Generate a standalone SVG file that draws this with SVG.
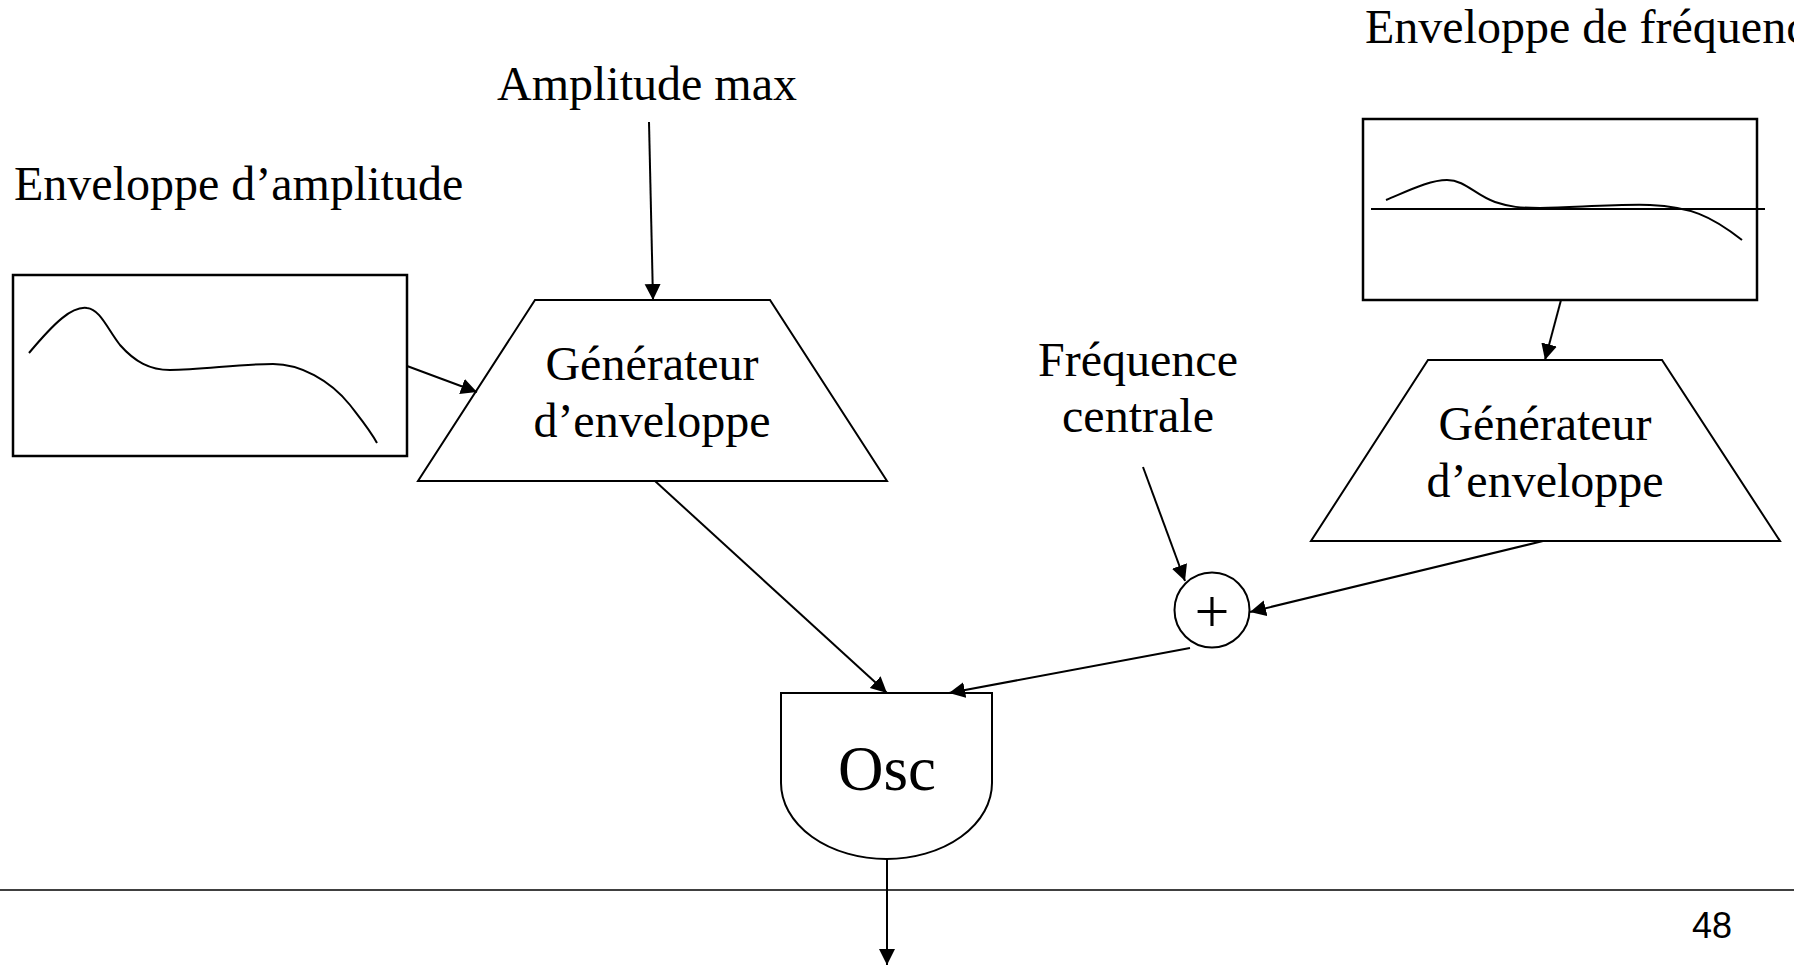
<svg xmlns="http://www.w3.org/2000/svg" width="1794" height="965" viewBox="0 0 1794 965">
  <style>
    .lbl { font-family: "Liberation Serif", "Times New Roman", serif; font-size: 48px; fill: #000; }
    .mid { text-anchor: middle; }
    .box { fill: #fff; stroke: #000; stroke-width: 2.5; }
    .shape { fill: #fff; stroke: #000; stroke-width: 2; }
    .curve { fill: none; stroke: #000; stroke-width: 2; }
    .wire { fill: none; stroke: #000; stroke-width: 2; marker-end: url(#head); }
    .rule { stroke: #000; stroke-width: 1.5; }
  </style>
  <defs>
    <marker id="head" markerUnits="userSpaceOnUse" markerWidth="17" markerHeight="17" refX="16" refY="8" orient="auto">
      <path d="M0,0 L16,8 L0,16 Z" fill="#000"/>
    </marker>
  </defs>
  <rect width="1794" height="965" fill="#fff"/>

  <!-- free-standing labels -->
  <text class="lbl" x="14" y="200">Enveloppe d’amplitude</text>
  <text class="lbl mid" x="647" y="100">Amplitude max</text>
  <text class="lbl" x="1365" y="43">Enveloppe de fréquence</text>
  <text class="lbl mid" x="1138" y="376">Fréquence</text>
  <text class="lbl mid" x="1138" y="432">centrale</text>

  <!-- amplitude envelope sketch -->
  <g id="env-amplitude">
    <rect class="box" x="13" y="275" width="394" height="181"/>
    <path class="curve" d="M29,353 C55,322 72,306 87,308 C100,309 108,330 120,345 C135,362 150,370 170,370 C200,370 240,364 273,364 C300,364 330,380 350,405 C360,418 370,430 377,443"/>
  </g>

  <!-- frequency envelope sketch -->
  <g id="env-frequency">
    <rect class="box" x="1363" y="119" width="394" height="181"/>
    <line class="curve" x1="1371" y1="209" x2="1765" y2="209"/>
    <path class="curve" d="M1386,200 C1410,190 1430,180 1447,180 C1465,180 1475,195 1495,202 C1510,207 1520,208 1540,208 C1580,207 1620,204 1650,205 C1690,207 1710,215 1742,240"/>
  </g>

  <!-- envelope generator (amplitude) -->
  <g id="gen-amplitude">
    <polygon class="shape" points="535,300 770,300 887,481 418,481"/>
    <text class="lbl mid" x="652" y="380">Générateur</text>
    <text class="lbl mid" x="652" y="437">d’enveloppe</text>
  </g>

  <!-- envelope generator (frequency) -->
  <g id="gen-frequency">
    <polygon class="shape" points="1428,360 1662,360 1780,541 1311,541"/>
    <text class="lbl mid" x="1545" y="440">Générateur</text>
    <text class="lbl mid" x="1545" y="497">d’enveloppe</text>
  </g>

  <!-- summing junction -->
  <g id="sum">
    <circle class="shape" cx="1212" cy="610" r="37.5"/>
    <text x="1212" y="632" text-anchor="middle" font-family="Liberation Serif, Times New Roman, serif" font-size="62">+</text>
  </g>

  <!-- oscillator -->
  <g id="osc">
    <path class="shape" d="M781,693 L992,693 L992,783 A105.5,76 0 0 1 781,783 Z"/>
    <text x="887" y="790" text-anchor="middle" font-family="Liberation Serif, Times New Roman, serif" font-size="63">Osc</text>
  </g>

  <!-- connectors -->
  <g id="connectors">
    <line class="wire" x1="649" y1="122" x2="653" y2="300"/>
    <line class="wire" x1="407" y1="366" x2="477" y2="392"/>
    <line class="wire" x1="1561" y1="300" x2="1545" y2="360"/>
    <line class="wire" x1="1543" y1="541" x2="1250" y2="612"/>
    <line class="wire" x1="1143" y1="467" x2="1185" y2="581"/>
    <line class="wire" x1="655" y1="481" x2="887" y2="693"/>
    <line class="wire" x1="1190" y1="648" x2="949" y2="693"/>
    <line class="wire" x1="887" y1="859" x2="887" y2="965"/>
  </g>

  <!-- page footer -->
  <line class="rule" x1="0" y1="890" x2="1794" y2="890"/>
  <text x="1692" y="938" font-family="Liberation Sans, Arial, sans-serif" font-size="36">48</text>
</svg>
